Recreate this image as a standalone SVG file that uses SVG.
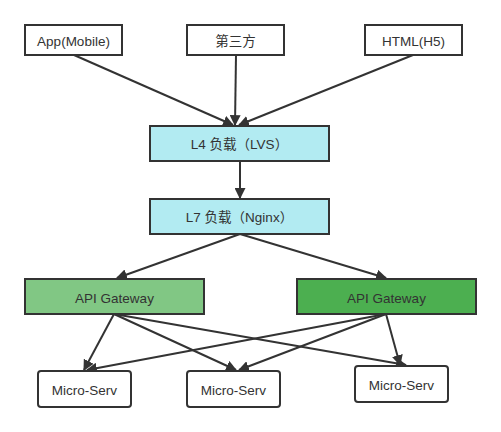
<svg xmlns="http://www.w3.org/2000/svg" width="501" height="432" viewBox="0 0 501 432">
<style>
.box{stroke:#333;stroke-width:2}
.t{font-family:"Liberation Sans","Noto Sans CJK SC",sans-serif;font-size:13.5px;fill:#333;text-anchor:middle;dominant-baseline:central}
.e{stroke:#333;stroke-width:2;fill:none;marker-end:url(#ah)}
</style>
<defs>
<marker id="ah" viewBox="0 0 10 10" refX="9" refY="5" markerWidth="5.5" markerHeight="5.5" orient="auto" markerUnits="strokeWidth">
<path d="M0,0 L10,5 L0,10 z" fill="#333"/>
</marker>
</defs>
<rect width="501" height="432" fill="#fff"/>
<g id="connectors">
<line class="e" x1="74" y1="55" x2="233" y2="125"/>
<line class="e" x1="236" y1="55" x2="235" y2="125"/>
<line class="e" x1="413" y1="55" x2="239" y2="125"/>
<line class="e" x1="240" y1="161" x2="240" y2="198"/>
<line class="e" x1="240" y1="234" x2="117" y2="278"/>
<line class="e" x1="240" y1="234" x2="386" y2="278"/>
<line class="e" x1="114" y1="314" x2="84" y2="370"/>
<line class="e" x1="114" y1="314" x2="236" y2="370"/>
<line class="e" x1="114" y1="314" x2="406" y2="365"/>
<line class="e" x1="386" y1="314" x2="87" y2="370"/>
<line class="e" x1="386" y1="314" x2="239" y2="370"/>
<line class="e" x1="386" y1="314" x2="400" y2="365"/>
</g>
<g id="app"><rect class="box" x="25" y="25" width="97" height="30" fill="#fff"/><text class="t" x="73.5" y="41">App(Mobile)</text></g>
<g id="third"><rect class="box" x="187" y="25" width="97" height="30" fill="#fff"/><text class="t" x="235.5" y="41">第三方</text></g>
<g id="html"><rect class="box" x="365" y="25" width="97" height="30" fill="#fff"/><text class="t" x="413.5" y="41">HTML(H5)</text></g>
<g id="l4"><rect class="box" x="150" y="126" width="179" height="35" fill="#b2ebf2"/><text class="t" x="239.5" y="144">L4 负载（LVS）</text></g>
<g id="l7"><rect class="box" x="150" y="199" width="179" height="35" fill="#b2ebf2"/><text class="t" x="239.5" y="217">L7 负载（Nginx）</text></g>
<g id="gw1"><rect class="box" x="25" y="279" width="179" height="35" fill="#81c784"/><text class="t" x="114.5" y="298">API Gateway</text></g>
<g id="gw2"><rect class="box" x="297" y="279" width="179" height="35" fill="#4caf50"/><text class="t" x="386.5" y="298">API Gateway</text></g>
<g id="ms1"><rect class="box" x="38" y="371" width="93" height="36" rx="3" fill="#fff"/><text class="t" x="84.5" y="390">Micro-Serv</text></g>
<g id="ms2"><rect class="box" x="187" y="371" width="93" height="36" rx="3" fill="#fff"/><text class="t" x="233.5" y="390">Micro-Serv</text></g>
<g id="ms3"><rect class="box" x="355" y="366" width="93" height="36" rx="3" fill="#fff"/><text class="t" x="401.5" y="385">Micro-Serv</text></g>
</svg>
